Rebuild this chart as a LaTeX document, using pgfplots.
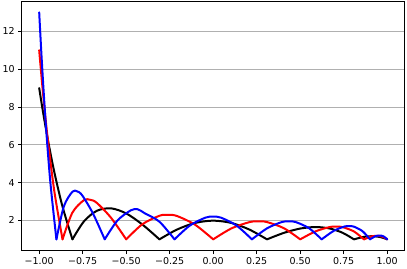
\documentclass[border=0pt]{standalone}
\usepackage{fontspec}
\setmainfont{DejaVu Sans}
\usepackage{pgfplots}
\pgfplotsset{compat=1.18}
\definecolor{gridgray}{RGB}{176,176,176}
\begin{document}
\begin{tikzpicture}
\useasboundingbox (-21.8pt,-17.3pt) rectangle (385.2pt,250.7pt);
\begin{axis}[
  at={(0,0)}, anchor=south west,
  scale only axis, width=382.8pt, height=249.7pt,
  xmin=-1.1, xmax=1.1, ymin=0.4, ymax=13.6,
  xtick={-1,-0.75,-0.5,-0.25,0,0.25,0.5,0.75,1},
  xticklabels={−1.00,−0.75,−0.50,−0.25,0.00,0.25,0.50,0.75,1.00},
  ytick={2,4,6,8,10,12},
  yticklabels={2,4,6,8,10,12},
  tick align=outside, major tick length=3.5pt,
  xtick pos=left, ytick pos=left,
  ymajorgrids, grid style={gridgray, line width=0.8pt},
  axis line style={line width=0.8pt},
  tick style={line width=0.8pt, black},
  ticklabel style={font=\fontsize{9.5}{11}\selectfont},
  every axis plot/.append style={line width=2pt, line join=round, line cap=round, no markers, smooth, tension=0.5},
]
% black (5 nodes)
\addplot[black] coordinates {(-1,9) (-0.994522,8.6745) (-0.978148,7.7397) (-0.951057,6.3137) (-0.913545,4.5743) (-0.866025,2.7321) (-0.809017,1)};
\addplot[black] coordinates {(-0.809017,1) (-0.743145,1.9471) (-0.669131,2.5074) (-0.587785,2.6403) (-0.5,2.3708) (-0.406737,1.7822) (-0.309017,1)};
\addplot[black] coordinates {(-0.309017,1) (-0.207912,1.5178) (-0.104528,1.8662) (0,1.9889) (0.104528,1.8662) (0.207912,1.5178) (0.309017,1)};
\addplot[black] coordinates {(0.309017,1) (0.406737,1.3443) (0.5,1.5708) (0.587785,1.6515) (0.669131,1.5751) (0.743145,1.3493) (0.809017,1)};
\addplot[black] coordinates {(0.809017,1) (0.866025,1.1321) (0.913545,1.1676) (0.951057,1.1361) (0.978148,1.0751) (0.994522,1.0212) (1,1)};
% red (6 nodes)
\addplot[red] coordinates {(-1,11) (-0.994522,10.4066) (-0.978148,8.7397) (-0.951057,6.3137) (-0.913545,3.5744) (-0.866025,1)};
\addplot[red] coordinates {(-0.866025,1) (-0.809017,2.4171) (-0.743145,3.0690) (-0.707107,3.0926) (-0.669131,2.9296) (-0.587785,2.1478) (-0.5,1)};
\addplot[red] coordinates {(-0.5,1) (-0.406737,1.8016) (-0.309017,2.2473) (-0.258819,2.2997) (-0.207912,2.2333) (-0.104528,1.7752) (0,1)};
\addplot[red] coordinates {(0,1) (0.104528,1.5782) (0.207912,1.9092) (0.258819,1.9546) (0.309017,1.9140) (0.406737,1.5871) (0.5,1)};
\addplot[red] coordinates {(0.5,1) (0.587785,1.4212) (0.669131,1.6499) (0.707107,1.6784) (0.743145,1.6477) (0.809017,1.4171) (0.866025,1)};
\addplot[red] coordinates {(0.866025,1) (0.913545,1.1658) (0.951057,1.1843) (0.965926,1.1563) (0.978148,1.1158) (0.994522,1.0346) (1,1)};
% blue (7 nodes)
\addplot[blue] coordinates {(-1,13) (-0.995974,12.2790) (-0.983930,10.2580) (-0.963963,7.3299) (-0.936235,4.0480) (-0.900969,1)};
\addplot[blue] coordinates {(-0.900969,1) (-0.858449,2.7381) (-0.809017,3.5187) (-0.781831,3.5366) (-0.753071,3.3279) (-0.691063,2.3696) (-0.623490,1)};
\addplot[blue] coordinates {(-0.623490,1) (-0.550897,1.9902) (-0.473869,2.5327) (-0.433884,2.5909) (-0.393025,2.3767) (-0.309017,1.9335) (-0.222521,1)};
\addplot[blue] coordinates {(-0.222521,1) (-0.134233,1.7293) (-0.044865,2.1473) (0,2.2022) (0.044865,2.1473) (0.134233,1.7293) (0.222521,1)};
\addplot[blue] coordinates {(0.222521,1) (0.309017,1.5803) (0.393025,1.9116) (0.433884,1.9566) (0.473869,1.9156) (0.550897,1.5878) (0.623490,1)};
\addplot[blue] coordinates {(0.623490,1) (0.691063,1.4402) (0.753071,1.6759) (0.781831,1.7036) (0.809017,1.6695) (0.858449,1.4283) (0.900969,1)};
\addplot[blue] coordinates {(0.900969,1) (0.936235,1.1803) (0.963963,1.2016) (0.974928,1.1713) (0.983930,1.1272) (0.995974,1.0380) (1,1)};
\end{axis}
\end{tikzpicture}
\end{document}
